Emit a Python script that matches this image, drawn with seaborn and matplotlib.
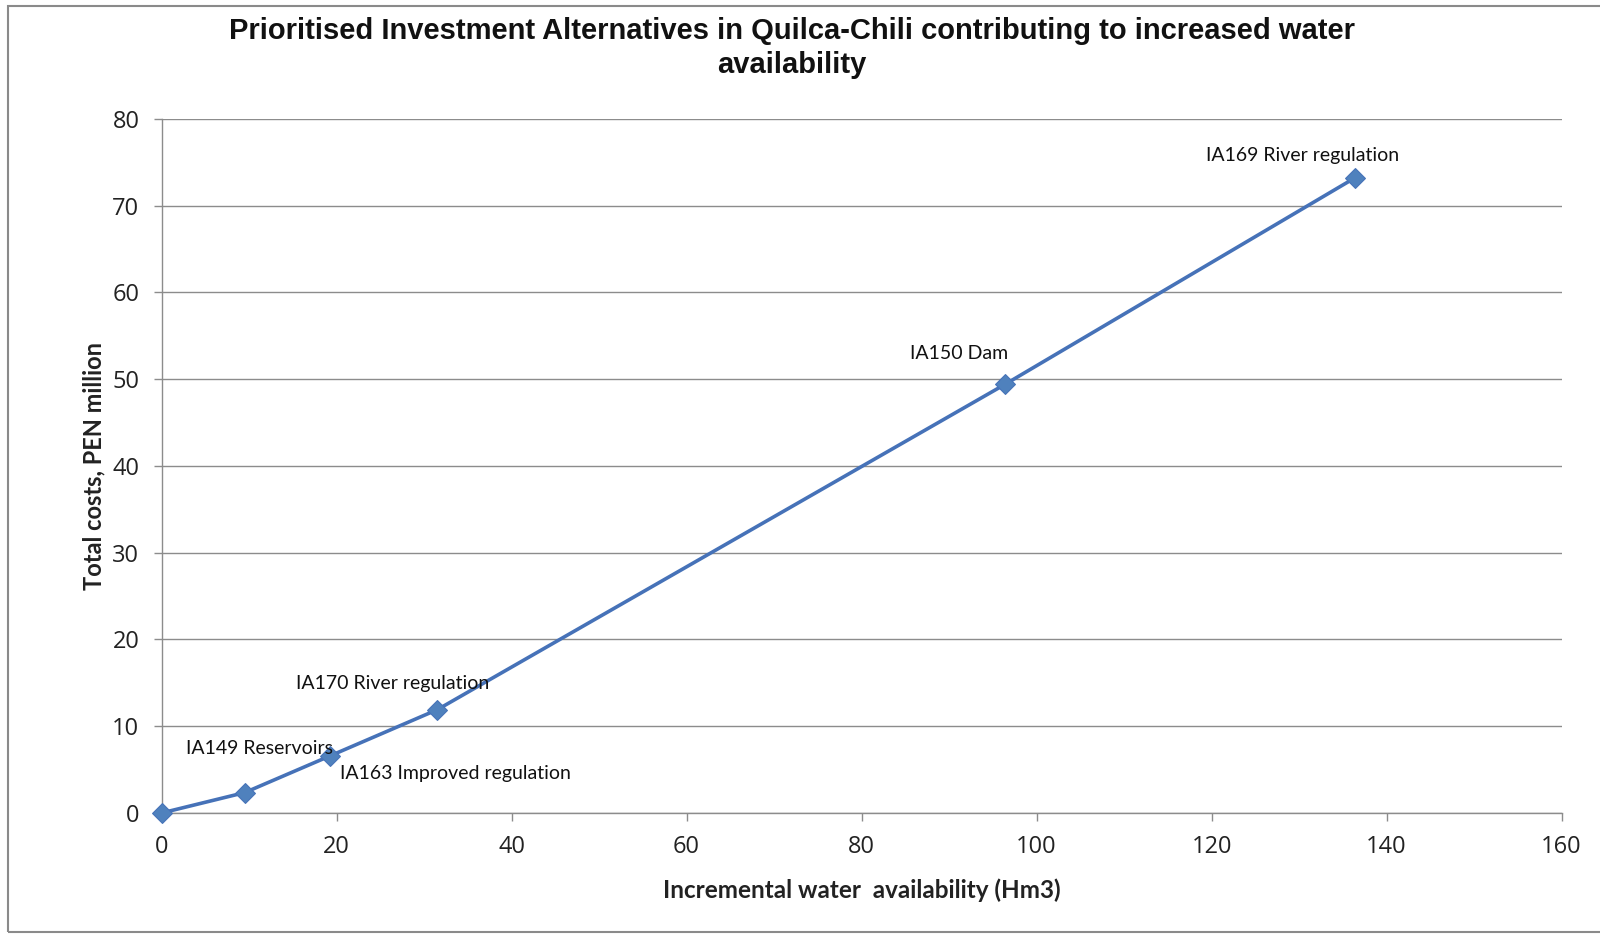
import matplotlib
matplotlib.use("Agg")
import matplotlib.pyplot as plt
import seaborn as sns
import pandas as pd
from matplotlib.patches import Rectangle

water = [0, 9.5, 19.3, 31.5, 96.4, 136.4]
costs = [0, 2.35, 6.6, 11.9, 49.4, 73.2]
labels = ["", "", "IA149 Reservoirs|IA163 Improved regulation", "IA170 River regulation",
          "IA150 Dam", "IA169 River regulation"]
x_ticks = [0, 20, 40, 60, 80, 100, 120, 140, 160]
y_ticks = [0, 10, 20, 30, 40, 50, 60, 70, 80]

df = pd.DataFrame({"water": water, "costs": costs})

sns.set_theme(style="white")
plt.rcParams['font.family'] = ['Liberation Sans', 'DejaVu Sans']

fig = plt.figure(figsize=(16, 9.35), dpi=100)
ax = fig.add_axes([0.101, 0.1305, 0.875, 0.7425])

blue = "#4672B8"
sns.lineplot(data=df, x="water", y="costs", ax=ax, color=blue, linewidth=2.6,
             marker="D", markersize=10, markeredgecolor=blue, markerfacecolor="#4F81BD",
             zorder=3, clip_on=False)

ax.set_xlim(0, 160)
ax.set_ylim(0, 80)
ax.set_xticks(x_ticks)
ax.set_yticks(y_ticks)
ax.yaxis.grid(True, color="#8c8c8c", linewidth=1.0)
ax.xaxis.grid(False)
for s in ["top", "right"]:
    ax.spines[s].set_visible(False)
for s in ["left", "bottom"]:
    ax.spines[s].set_color("#8c8c8c")
    ax.spines[s].set_linewidth(1.0)
ax.tick_params(axis="both", which="major", length=6, width=1, color="#8c8c8c",
               labelsize=17, labelcolor="#222222", direction="out", bottom=True, left=True)
for t in ax.get_xticklabels() + ax.get_yticklabels():
    t.set_fontfamily(["Open Sans", "DejaVu Sans"])
ax.tick_params(axis="x", pad=10)
ax.tick_params(axis="y", pad=10)

ax.set_xlabel("Incremental water  availability (Hm3)", fontsize=17.5, fontweight="bold",
              family=["Lato", "DejaVu Sans"], labelpad=14, color="#222222")
ax.set_ylabel("Total costs, PEN million", fontsize=17, fontweight="bold",
              family=["Lato", "DejaVu Sans"], labelpad=5, color="#222222")

offsets = {
    "IA149 Reservoirs": ((2, 5), "right"),
    "IA163 Improved regulation": ((7, -12.5), "left"),
    "IA170 River regulation": ((-32, 19), "center"),
    "IA150 Dam": ((-33, 22), "center"),
    "IA169 River regulation": ((-38, 16), "center"),
}
for xv, yv, lab in zip(water, costs, labels):
    if not lab:
        continue
    for part in lab.split("|"):
        off, ha = offsets[part]
        ax.annotate(part, (xv, yv), xytext=off, textcoords="offset points",
                    ha=ha, va="center", fontsize=14, family=["Lato", "DejaVu Sans"],
                    color="#111111", zorder=5)

fig.text(0.495, 0.982, "Prioritised Investment Alternatives in Quilca-Chili contributing to increased water\navailability",
         ha="center", va="top", fontsize=21, fontweight="bold", linespacing=1.3, color="#111111")

fig.patches.append(Rectangle((0.005, 0.003), 1.2, 0.991, transform=fig.transFigure,
                             fill=False, edgecolor="#8a8a8a", linewidth=1.5))

fig.savefig("out.png", dpi=100)
